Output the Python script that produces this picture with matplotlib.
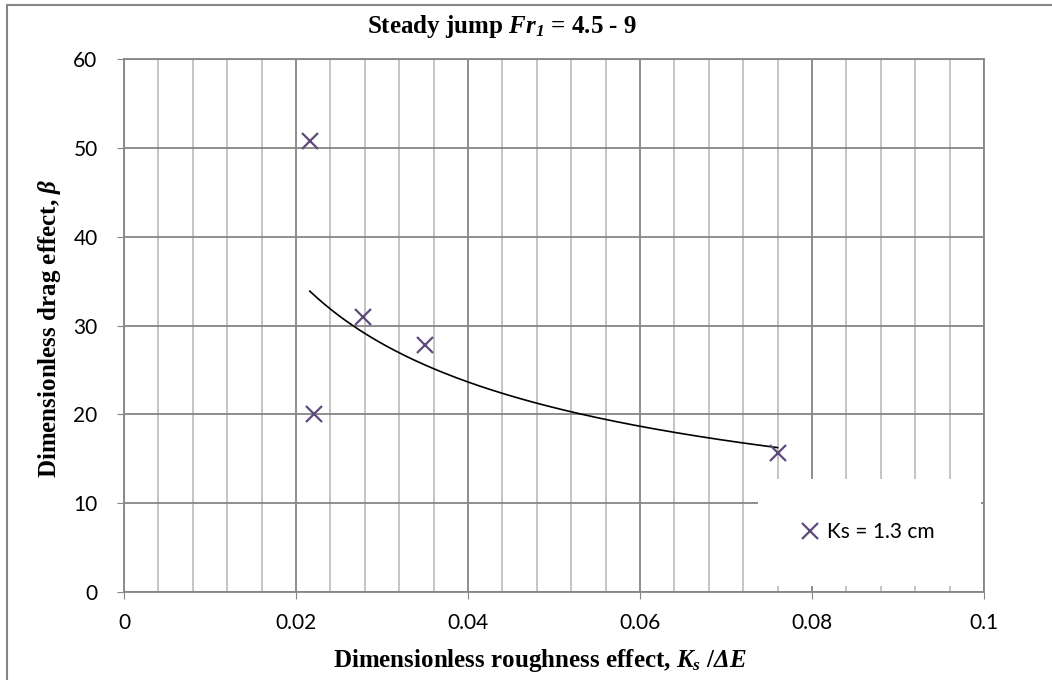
import numpy as np
import matplotlib
matplotlib.use('Agg')
import matplotlib.pyplot as plt
from matplotlib.patches import Rectangle
from matplotlib.ticker import MultipleLocator, FuncFormatter

# Plot style: sans ticks/legend, bold serif titles with bold-italic symbols
plt.rcParams.update({
    'font.family': 'Lato',
    'mathtext.fontset': 'custom',
    'mathtext.rm': 'Liberation Serif:bold',
    'mathtext.it': 'Liberation Serif:italic:bold',
    'mathtext.bf': 'Liberation Serif:italic:bold',
})

MAJOR_GRID = '#868686'
MINOR_GRID = '#c0c0c0'
MARKER_COLOR = '#604a7b'

# Measured points (Ks = 1.3 cm)
ks_ratio = [0.0216, 0.0221, 0.0278, 0.0350, 0.0760]
beta = [50.8, 20.0, 31.0, 27.8, 15.7]

x_ticks = [0, 0.02, 0.04, 0.06, 0.08, 0.1]
y_ticks = [0, 10, 20, 30, 40, 50, 60]

W, H = 1052, 680
fig = plt.figure(figsize=(W / 100, H / 100), dpi=100)
ax = fig.add_axes([124 / W, (H - 592) / H, 860 / W, (592 - 59) / H])

# Power trendline fitted in log space
b, ln_a = np.polyfit(np.log(ks_ratio), np.log(beta), 1)
x_fit = np.linspace(min(ks_ratio), max(ks_ratio), 200)
y_fit = np.exp(ln_a) * x_fit ** b

ax.plot(x_fit, y_fit, color='black', lw=1.2, zorder=3)
ax.plot(ks_ratio, beta, linestyle='none', marker='x', ms=12, mew=1.6,
        color=MARKER_COLOR, zorder=4, label='Ks = 1.3 cm')

ax.set_xlim(x_ticks[0], x_ticks[-1])
ax.set_ylim(y_ticks[0], y_ticks[-1])
ax.set_xticks(x_ticks)
ax.set_yticks(y_ticks)
ax.xaxis.set_minor_locator(MultipleLocator(0.004))
ax.xaxis.set_major_formatter(FuncFormatter(lambda v, p: f'{v:g}'))

ax.set_axisbelow(True)
ax.grid(which='major', color=MAJOR_GRID, lw=1.3)
ax.grid(which='minor', axis='x', color=MINOR_GRID, lw=1.3)
for side in ax.spines:
    ax.spines[side].set_color(MAJOR_GRID)
    ax.spines[side].set_linewidth(1.3)
ax.tick_params(which='major', length=5, color=MAJOR_GRID, labelsize=15,
               labelcolor='black', pad=10)
ax.tick_params(which='minor', length=0)
ax.tick_params(axis='y', pad=14)

# White box behind the legend hides the grid there
ax.add_patch(Rectangle((0.737, 0.0105), 0.26, 0.201, transform=ax.transAxes,
                       facecolor='white', edgecolor='none', zorder=2))
ax.legend(loc='center left', bbox_to_anchor=(0.786, 0.112), frameon=False,
          fontsize=15, handlelength=1.0, handletextpad=0.3, borderpad=0,
          borderaxespad=0)

fig.text(502 / W, 1 - 26 / H, r'Steady jump $\mathbf{Fr_1}$ = 4.5 - 9',
         ha='center', va='center', fontsize=18, fontweight='bold',
         family='Liberation Serif')
fig.text(540 / W, 1 - 660 / H,
         r'Dimensionless roughness effect, $\mathbf{K_s}$ /$\mathbf{\Delta E}$',
         ha='center', va='center', fontsize=18, fontweight='bold',
         family='Liberation Serif')
fig.text(50 / W, 1 - 328 / H, r'Dimensionless drag effect, $\mathbf{\beta}$',
         ha='center', va='center', rotation=90, fontsize=18,
         fontweight='bold', family='Liberation Serif')

# Chart-area border
fig.patches.append(Rectangle((7 / W, -0.1), 1.2, 1 - 5 / H + 0.1,
                             transform=fig.transFigure, fill=False,
                             edgecolor=MAJOR_GRID, lw=1.5))

fig.savefig('out.png', dpi=100)
